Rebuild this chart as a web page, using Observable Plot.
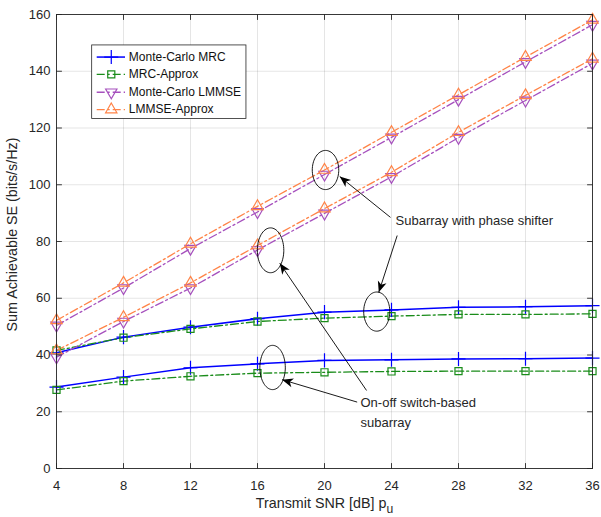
<!DOCTYPE html>
<html><head><meta charset="utf-8">
<script src="https://cdn.jsdelivr.net/npm/d3@7"></script>
<script src="https://cdn.jsdelivr.net/npm/@observablehq/plot@0.6"></script>
<style>
body{margin:0;background:#fff}
svg{font-family:"Liberation Sans",Arial,Helvetica,sans-serif}
</style>
</head><body><div id="chart"></div>
<script>
// ---- data ----
const snr = [4, 8, 12, 16, 20, 24, 28, 32, 36];
const xTicks = [4, 8, 12, 16, 20, 24, 28, 32, 36];
const yTicks = [0, 20, 40, 60, 80, 100, 120, 140, 160];

// Subarray with phase shifter
const mrcMC_phase   = [40.8, 46.3, 49.8, 52.8, 55.1, 55.9, 56.8, 57.0, 57.4];
const mrcAp_phase   = [41.6, 46.1, 49.2, 51.8, 53.0, 53.7, 54.3, 54.3, 54.5];
const lmmseMC_phase = [50.4, 63.6, 77.5, 90.4, 103.6, 116.7, 130.0, 143.3, 156.4];
const lmmseAp_phase = [52.2, 65.4, 79.2, 92.4, 105.2, 118.5, 131.7, 145.0, 158.1];
// On-off switch-based subarray
const mrcMC_onoff   = [28.7, 32.2, 35.5, 36.9, 38.1, 38.3, 38.6, 38.7, 38.9];
const mrcAp_onoff   = [27.7, 30.8, 32.5, 33.6, 33.9, 34.2, 34.3, 34.3, 34.3];
const lmmseMC_onoff = [39.2, 51.8, 63.6, 77.0, 89.9, 102.8, 116.6, 129.7, 142.8];
const lmmseAp_onoff = [41.6, 53.3, 65.4, 78.6, 91.6, 104.4, 118.5, 131.5, 144.4];

const seriesNames = ["Monte-Carlo MRC", "MRC-Approx", "Monte-Carlo LMMSE", "LMMSE-Approx"];
const seriesValues = [
  [mrcMC_phase, mrcMC_onoff],
  [mrcAp_phase, mrcAp_onoff],
  [lmmseMC_phase, lmmseMC_onoff],
  [lmmseAp_phase, lmmseAp_onoff]
];

// annotations (data units)
const ellipseCX = [20.06, 16.78, 23.12, 16.9];
const ellipseCY = [105.2, 76.9, 55.3, 35.6];
const ellipseRX = [0.79, 0.79, 0.78, 0.76];
const ellipseRY = [6.9, 7.9, 6.9, 7.8];
const arrowX1 = [23.94, 24.34, 22.51, 21.95];
const arrowY1 = [88.5, 82.1, 27.5, 23.4];
const arrowX2 = [20.91, 23.24, 17.33, 17.47];
const arrowY2 = [102.9, 62.1, 72.35, 31.3];
const noteTexts = ["Subarray with phase shifter", "On-off switch-based", "subarray"];
const noteX = [24.24, 22.15, 22.15];
const noteY = [87.4, 23.0, 16.0];

// legend layout (data units)
const legendBox = {x1: 6.13, x2: 15.34, y1: 123.2, y2: 149.1};
const legendY = [145.0, 138.9, 132.6, 126.5];
const legendLineX = [6.43, 8.12];
const legendMarkX = 7.27;
const legendTextX = 8.32;

// ---- styles ----
const styles = [
  {color: "#0000ff", dash: null, width: 1.5, symbol: "plus", r: 4.6, rotate: 0},
  {color: "#1a8c1a", dash: "8,3,2,3", width: 1.3, symbol: "square", r: 4.0, rotate: 0},
  {color: "#a650bd", dash: "8,3,2,3", width: 1.3, symbol: "triangle", r: 4.2, rotate: 180},
  {color: "#ff8347", dash: "8,3,2,3", width: 1.3, symbol: "triangle", r: 4.2, rotate: 0}
];
const axisColor = "#262626";

// ---- build rows ----
const seriesRows = seriesValues.map((groups, i) =>
  groups.flatMap((vals, g) => vals.map((v, j) => ({x: snr[j], y: v, g}))));

const ellipseRows = ellipseCX.flatMap((cx, k) =>
  d3.range(72).map(t => {
    const a = (t / 72) * 2 * Math.PI;
    return {k, x: cx + ellipseRX[k] * Math.cos(a), y: ellipseCY[k] + ellipseRY[k] * Math.sin(a)};
  }));
const arrows = arrowX1.map((x1, i) => ({x1, y1: arrowY1[i], x2: arrowX2[i], y2: arrowY2[i]}));
const notes = noteTexts.map((t, i) => ({t, x: noteX[i], y: noteY[i]}));
const legendRows = seriesNames.map((name, i) => ({name, i, y: legendY[i]}));

const tickShape = {draw(context, l) { context.moveTo(0, 0); context.lineTo(0, -l); }};

const marks = [
  Plot.gridX(xTicks, {stroke: "#000", strokeOpacity: 0.1}),
  Plot.gridY(yTicks, {stroke: "#000", strokeOpacity: 0.1}),
];

styles.forEach((s, i) => {
  marks.push(Plot.line(seriesRows[i], {x: "x", y: "y", z: "g", stroke: s.color, strokeWidth: s.width,
    strokeDasharray: s.dash}));
});
styles.forEach((s, i) => {
  marks.push(Plot.dot(seriesRows[i], {x: "x", y: "y", symbol: s.symbol, r: s.r, stroke: s.color,
    strokeWidth: 1.2, fill: "none", rotate: s.rotate}));
});

// annotations
marks.push(
  Plot.line(ellipseRows, {x: "x", y: "y", z: "k", curve: "linear-closed", stroke: "black", strokeWidth: 0.9}),
  Plot.link(arrows, {x1: "x1", y1: "y1", x2: "x2", y2: "y2", stroke: "black", strokeWidth: 0.9}),
  Plot.text(notes, {x: "x", y: "y", text: "t", textAnchor: "start", lineAnchor: "middle", fontSize: 13, fill: axisColor})
);

// legend
marks.push(Plot.rect([legendBox], {x1: "x1", x2: "x2", y1: "y1", y2: "y2", fill: "white", stroke: axisColor, strokeWidth: 0.8}));
styles.forEach((s, i) => {
  marks.push(Plot.ruleY([legendRows[i]], {x1: () => legendLineX[0], x2: () => legendLineX[1], y: "y",
    stroke: s.color, strokeWidth: s.width, strokeDasharray: s.dash}));
  marks.push(Plot.dot([legendRows[i]], {x: () => legendMarkX, y: "y", symbol: s.symbol, r: s.r, stroke: s.color,
    strokeWidth: 1.2, fill: "none", rotate: s.rotate}));
});
marks.push(Plot.text(legendRows, {x: () => legendTextX, y: "y", text: "name", textAnchor: "start", lineAnchor: "middle",
  fontSize: 12, fill: "#111"}));

// frame, inward ticks, axes
marks.push(
  Plot.frame({stroke: axisColor, strokeWidth: 0.9}),
  Plot.vector(xTicks, {x: d => d, frameAnchor: "bottom", length: 5, rotate: 0, anchor: "start", shape: tickShape, stroke: axisColor, strokeWidth: 0.9}),
  Plot.vector(xTicks, {x: d => d, frameAnchor: "top", length: 5, rotate: 180, anchor: "start", shape: tickShape, stroke: axisColor, strokeWidth: 0.9}),
  Plot.vector(yTicks, {y: d => d, frameAnchor: "left", length: 5, rotate: 90, anchor: "start", shape: tickShape, stroke: axisColor, strokeWidth: 0.9}),
  Plot.vector(yTicks, {y: d => d, frameAnchor: "right", length: 5, rotate: 270, anchor: "start", shape: tickShape, stroke: axisColor, strokeWidth: 0.9}),
  Plot.axisX(xTicks, {tickSize: 0, tickPadding: 12, fontSize: 13, color: axisColor, label: null}),
  Plot.axisY(yTicks, {tickSize: 0, tickPadding: 6, fontSize: 13, color: axisColor, label: null}),
  Plot.text(["Sum Achievable SE (bits/s/Hz)"], {frameAnchor: "left", dx: -44, dy: -7, rotate: -90,
    fontSize: 14.3, fill: axisColor, textAnchor: "middle", lineAnchor: "middle"}),
  Plot.text(["Transmit SNR [dB] p"], {frameAnchor: "bottom", dy: 29, lineAnchor: "top", fontSize: 14.3, fill: axisColor})
);

const plot = Plot.plot({
  width: 601, height: 517,
  marginLeft: 56, marginRight: 9, marginTop: 14, marginBottom: 49,
  x: {domain: [4, 36]},
  y: {domain: [0, 160]},
  style: {fontFamily: '"Liberation Sans", Arial, Helvetica, sans-serif', background: "white"},
  marks
});

// arrowheads (filled, MATLAB vback2 style)
const ns = "http://www.w3.org/2000/svg";
const defs = document.createElementNS(ns, "defs");
const marker = document.createElementNS(ns, "marker");
marker.setAttribute("id", "vback2");
marker.setAttribute("viewBox", "-12 -6 14 12");
marker.setAttribute("markerWidth", "14");
marker.setAttribute("markerHeight", "12");
marker.setAttribute("refX", "0");
marker.setAttribute("refY", "0");
marker.setAttribute("orient", "auto");
marker.setAttribute("markerUnits", "userSpaceOnUse");
const mp = document.createElementNS(ns, "path");
mp.setAttribute("d", "M0,0L-11,-4.5L-8,0L-11,4.5Z");
mp.setAttribute("fill", "black");
marker.appendChild(mp);
defs.appendChild(marker);
plot.insertBefore(defs, plot.firstChild);
plot.querySelectorAll('g[aria-label="link"] path').forEach(p => p.setAttribute("marker-end", "url(#vback2)"));

// subscript u on x label
plot.querySelectorAll("text").forEach(t => {
  if (t.textContent === "Transmit SNR [dB] p") {
    const ts = document.createElementNS(ns, "tspan");
    ts.setAttribute("dy", "0.4em");
    ts.setAttribute("font-size", "0.85em");
    ts.textContent = "u";
    t.appendChild(ts);
  }
});

document.getElementById("chart").appendChild(plot);
</script>
</body></html>
